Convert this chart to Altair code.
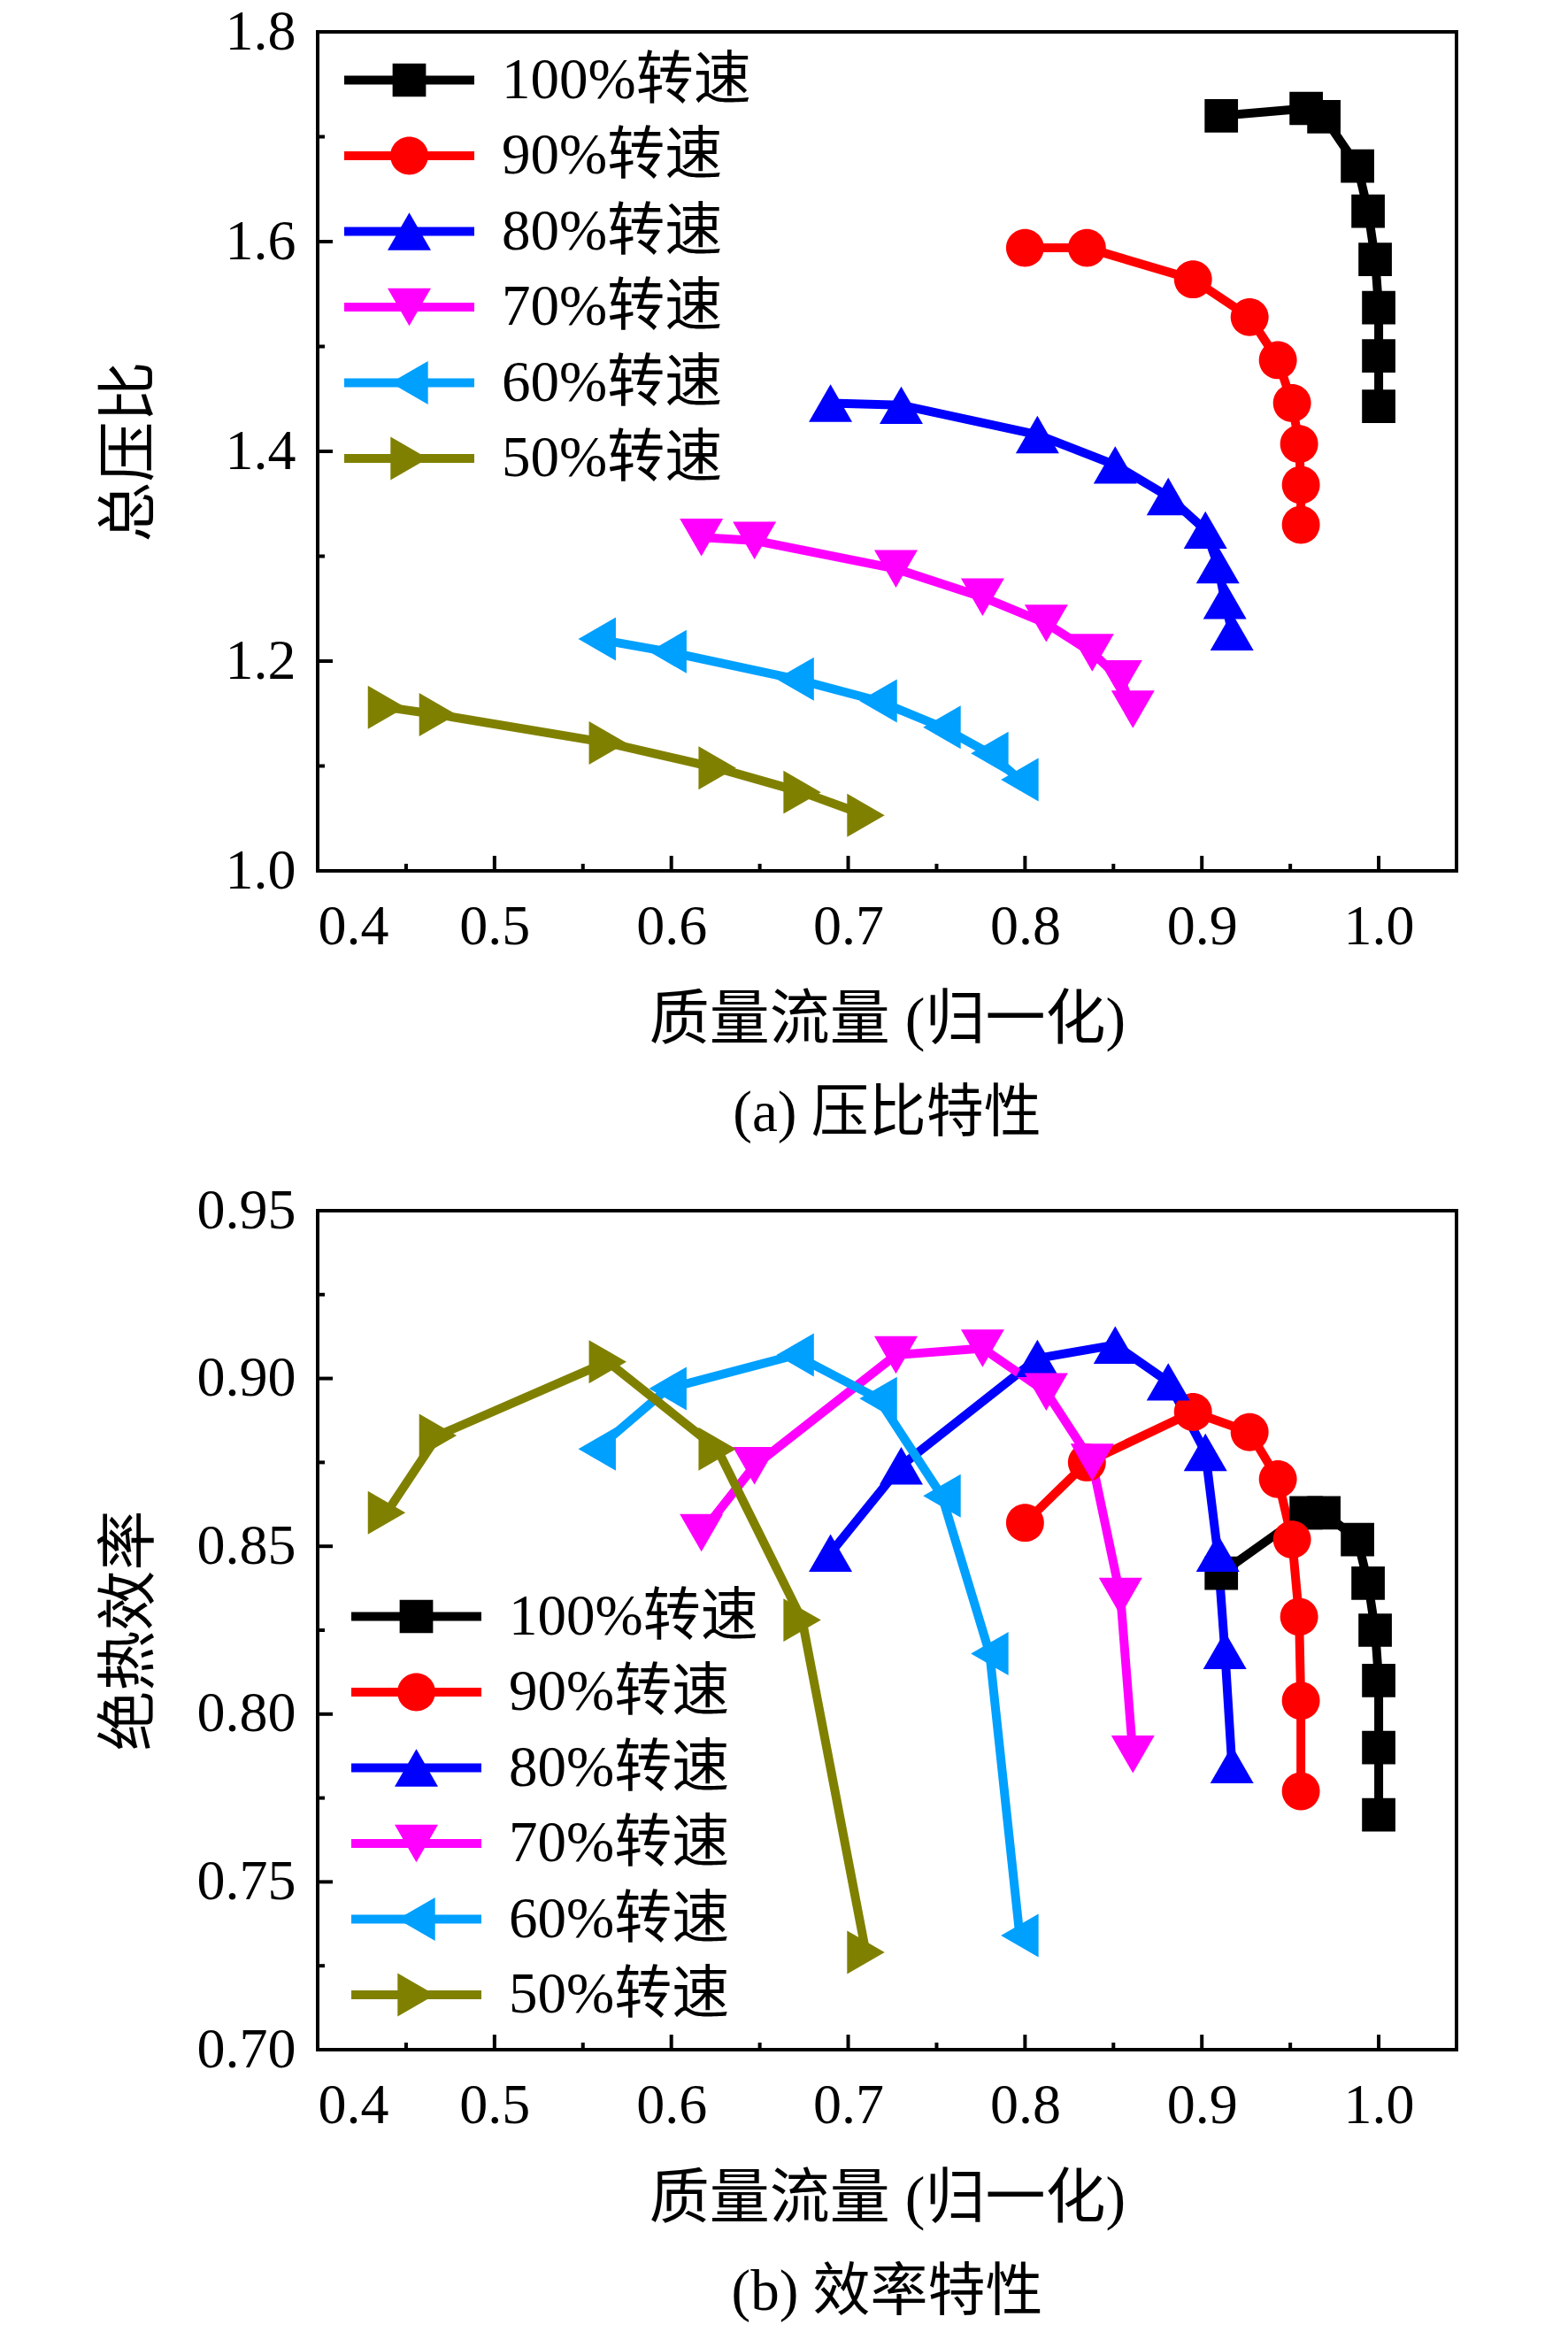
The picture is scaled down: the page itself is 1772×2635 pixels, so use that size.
import altair as alt
import pandas as pd

# ---------------- data ----------------
series_names = ["100%转速", "90%转速", "80%转速", "70%转速", "60%转速", "50%转速"]
series_colors = ["#000000", "#FF0000", "#0000FF", "#FF00FF", "#00A0FF", "#808000"]

flow_100 = [0.911, 0.959, 0.969, 0.988, 0.994, 0.998, 1.000, 1.000, 1.000]
flow_90 = [0.800, 0.835, 0.895, 0.927, 0.943, 0.951, 0.955, 0.956, 0.956]
flow_80 = [0.690, 0.730, 0.807, 0.851, 0.881, 0.902, 0.909, 0.913, 0.917]
flow_70 = [0.617, 0.647, 0.727, 0.776, 0.812, 0.838, 0.854, 0.861]
flow_60 = [0.558, 0.598, 0.670, 0.717, 0.753, 0.780, 0.797]
flow_50 = [0.439, 0.468, 0.564, 0.626, 0.674, 0.710]

pr_100 = [1.720, 1.727, 1.719, 1.672, 1.629, 1.583, 1.537, 1.491, 1.443]
pr_90 = [1.594, 1.594, 1.564, 1.528, 1.487, 1.446, 1.407, 1.368, 1.330]
pr_80 = [1.446, 1.444, 1.416, 1.387, 1.357, 1.325, 1.292, 1.258, 1.228]
pr_70 = [1.318, 1.315, 1.288, 1.261, 1.236, 1.208, 1.183, 1.154]
pr_60 = [1.221, 1.209, 1.183, 1.162, 1.137, 1.112, 1.087]
pr_50 = [1.156, 1.149, 1.122, 1.098, 1.075, 1.053]

eff_100 = [0.842, 0.860, 0.860, 0.852, 0.839, 0.825, 0.810, 0.790, 0.770]
eff_90 = [0.857, 0.875, 0.890, 0.884, 0.870, 0.852, 0.829, 0.804, 0.777]
eff_80 = [0.848, 0.874, 0.906, 0.910, 0.899, 0.878, 0.848, 0.819, 0.785]
eff_70 = [0.854, 0.874, 0.907, 0.909, 0.896, 0.875, 0.835, 0.788]
eff_60 = [0.879, 0.897, 0.907, 0.894, 0.865, 0.818, 0.734]
eff_50 = [0.860, 0.883, 0.905, 0.879, 0.828, 0.729]

x_ticks = [0.4, 0.5, 0.6, 0.7, 0.8, 0.9, 1.0]
x_minor = [0.45, 0.55, 0.65, 0.75, 0.85, 0.95]
pr_ticks = [1.0, 1.2, 1.4, 1.6, 1.8]
pr_minor = [1.1, 1.3, 1.5, 1.7]
eff_ticks = [0.70, 0.75, 0.80, 0.85, 0.90, 0.95]
eff_minor = [0.725, 0.775, 0.825, 0.875, 0.925]

flows = [flow_100, flow_90, flow_80, flow_70, flow_60, flow_50]
prs = [pr_100, pr_90, pr_80, pr_70, pr_60, pr_50]
effs = [eff_100, eff_90, eff_80, eff_70, eff_60, eff_50]

rows = []
for name, fl, pr, ef in zip(series_names, flows, prs, effs):
    for i, (a, b, c) in enumerate(zip(fl, pr, ef)):
        rows.append({"series": name, "idx": i, "flow": a, "pr": b, "eff": c})
df = pd.DataFrame(rows)

# ---------------- styling ----------------
FONT = "Liberation Serif, Noto Sans CJK SC"
W, H = 1287, 948
X_DOMAIN = [0.4, 1.044]
MAJOR, MINOR = 17, 8

shape_paths = [
    "M-0.77,-0.77H0.77V0.77H-0.77Z",
    "M-0.875,0A0.875,0.875,0,1,0,0.875,0A0.875,0.875,0,1,0,-0.875,0Z",
    "M0,-0.866L1,0.866L-1,0.866Z",
    "M0,0.866L1,-0.866L-1,-0.866Z",
    "M-0.866,0L0.866,-1L0.866,1Z",
    "M0.866,0L-0.866,-1L-0.866,1Z",
]
MARK_SIZE = 2400


def panel(yfield, ydomain, yvalues, yminor, yfmt, ytitle, ytitlepad, caption, legend_y, legend_x):
    xscale = alt.Scale(domain=X_DOMAIN, nice=False, zero=False)
    yscale = alt.Scale(domain=ydomain, nice=False, zero=False)
    xaxis = alt.Axis(values=x_ticks, format=".1f", title="质量流量 (归一化)",
                     labelPadding=31, titlePadding=40)
    yaxis = alt.Axis(values=yvalues, format=yfmt, title=ytitle,
                     labelPadding=25, titlePadding=ytitlepad)
    X = lambda f: alt.X(f, scale=xscale, axis=xaxis, title="质量流量 (归一化)")
    Y = lambda f: alt.Y(f, scale=yscale, axis=yaxis, title=ytitle)

    leg_common = dict(
        orient="none", legendX=legend_x, legendY=legend_y, title=None,
        symbolSize=MARK_SIZE, labelFontSize=65, labelFont=FONT, labelOffset=72,
        rowPadding=19.5, padding=0,
    )

    lines = alt.Chart(df).mark_line(strokeWidth=10, strokeCap="round", strokeJoin="round").encode(
        x=X("flow:Q"),
        y=Y(f"{yfield}:Q"),
        order=alt.Order("idx:Q"),
        color=alt.Color(
            "series:N",
            scale=alt.Scale(domain=series_names, range=series_colors),
            legend=alt.Legend(symbolType="M-3,0H3", symbolStrokeWidth=10,
                              labelOpacity=0, **leg_common),
        ),
    )

    pleg = alt.Legend(symbolStrokeWidth=0, symbolOpacity=1, labelColor="black", **leg_common)
    points = alt.Chart(df).mark_point(filled=True, size=MARK_SIZE, opacity=1, strokeWidth=0).encode(
        x=X("flow:Q"),
        y=Y(f"{yfield}:Q"),
        color=alt.Color("series:N", scale=alt.Scale(domain=series_names, range=series_colors),
                        legend=pleg),
        shape=alt.Shape("series:N", scale=alt.Scale(domain=series_names, range=shape_paths),
                        legend=pleg),
    )

    xt_major = alt.Chart(pd.DataFrame({"flow": x_ticks})).mark_rule(color="black", strokeWidth=4).encode(
        x=X("flow:Q"), y=alt.value(H), y2=alt.value(H - MAJOR))
    xt_minor = alt.Chart(pd.DataFrame({"flow": x_minor})).mark_rule(color="black", strokeWidth=4).encode(
        x=X("flow:Q"), y=alt.value(H), y2=alt.value(H - MINOR))
    yt_major = alt.Chart(pd.DataFrame({yfield: yvalues})).mark_rule(color="black", strokeWidth=4).encode(
        y=Y(f"{yfield}:Q"), x=alt.value(0), x2=alt.value(MAJOR))
    yt_minor = alt.Chart(pd.DataFrame({yfield: yminor})).mark_rule(color="black", strokeWidth=4).encode(
        y=Y(f"{yfield}:Q"), x=alt.value(0), x2=alt.value(MINOR))

    return alt.layer(lines, points, xt_major, xt_minor, yt_major, yt_minor).resolve_scale(
        color="independent", shape="independent"
    ).properties(
        width=W, height=H,
        title=alt.TitleParams(text=caption, orient="bottom", fontSize=65, font=FONT,
                              fontWeight="normal", color="black", offset=40),
    )


top = panel("pr", [1.0, 1.8], pr_ticks, pr_minor, ".1f", "总压比", 73, "(a) 压比特性", 22, 71)
bottom = panel("eff", [0.70, 0.95], eff_ticks, eff_minor, ".2f", "绝热效率", 41, "(b) 效率特性", 426, 79)

chart = alt.vconcat(top, bottom, spacing=41).properties(
    padding={"left": 103, "top": -6, "right": 10, "bottom": 0}
).configure(
    font=FONT,
).configure_view(
    stroke="black", strokeWidth=4
).configure_axis(
    domain=False, ticks=False, tickSize=0, grid=False,
    labelFont=FONT, labelFontSize=64, labelColor="black",
    titleFont=FONT, titleFontSize=68, titleFontWeight="normal", titleColor="black",
).configure_legend(
    labelLimit=0,
)

chart.save("out.html", embed_options={"renderer": "svg", "actions": False})
